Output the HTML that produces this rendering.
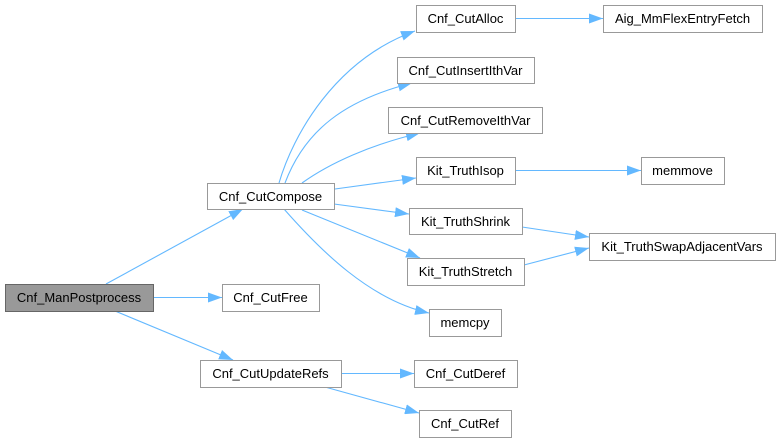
<!DOCTYPE html>
<html><head><meta charset="utf-8"><style>
html,body{margin:0;padding:0;background:#fff;}
svg{display:block;}
text{font-family:"Liberation Sans",Arial,sans-serif;font-size:13px;fill:#000;text-anchor:middle;}
.n{fill:#fff;stroke:#999;stroke-width:1;}
.e{fill:none;stroke:#63b8ff;stroke-width:1.1;}
</style></head><body>
<svg width="780" height="443" viewBox="0 0 780 443" xmlns="http://www.w3.org/2000/svg">
<defs>
<marker id="a" viewBox="0 0 14 10" refX="14" refY="5" markerWidth="14" markerHeight="10" markerUnits="userSpaceOnUse" orient="auto">
<path d="M0,0 L14,5 L0,10 z" fill="#63b8ff"/>
</marker>
</defs>
<g marker-end="url(#a)">
<path class="e" d="M106,284 L243,209"/>
<path class="e" d="M153,297.5 L222,297.5"/>
<path class="e" d="M115,311 L233,360"/>
<path class="e" d="M341,373.5 L414,373.5"/>
<path class="e" d="M325,387 L419,413"/>
<path class="e" d="M515,18.5 L603,18.5"/>
<path class="e" d="M515,170.5 L641,170.5"/>
<path class="e" d="M522,227 L589,237"/>
<path class="e" d="M524,265 L589,248"/>
<path class="e" d="M279,183 C293,135 335,60 415,31"/>
<path class="e" d="M285,183 C305,130 345,100 412,83"/>
<path class="e" d="M302,183 C330,163 370,145 420,133"/>
<path class="e" d="M335,189 L416,178"/>
<path class="e" d="M334,204 L409,214"/>
<path class="e" d="M302,210 L420,258"/>
<path class="e" d="M284,209 C320,250 370,300 429,313"/>
</g>
<rect x="5.5" y="284.5" width="148" height="27" fill="#999" stroke="#666"/>
<text x="79" y="302">Cnf_ManPostprocess</text>
<rect class="n" x="207.5" y="183.5" width="127" height="26"/>
<text x="270.5" y="201">Cnf_CutCompose</text>
<rect class="n" x="222.5" y="284.5" width="97" height="27"/>
<text x="270.5" y="302">Cnf_CutFree</text>
<rect class="n" x="200.5" y="360.5" width="141" height="27"/>
<text x="270.5" y="378">Cnf_CutUpdateRefs</text>
<rect class="n" x="416.5" y="5.5" width="99" height="27"/>
<text x="465.5" y="23">Cnf_CutAlloc</text>
<rect class="n" x="603.5" y="5.5" width="159" height="27"/>
<text x="682.5" y="23">Aig_MmFlexEntryFetch</text>
<rect class="n" x="397.5" y="57.5" width="137" height="26"/>
<text x="465.5" y="75">Cnf_CutInsertIthVar</text>
<rect class="n" x="388.5" y="107.5" width="154" height="26"/>
<text x="465.5" y="125">Cnf_CutRemoveIthVar</text>
<rect class="n" x="416.5" y="157.5" width="99" height="27"/>
<text x="465.5" y="175">Kit_TruthIsop</text>
<rect class="n" x="641.5" y="157.5" width="83" height="27"/>
<text x="682.5" y="175">memmove</text>
<rect class="n" x="409.5" y="208.5" width="113" height="26"/>
<text x="465.5" y="226">Kit_TruthShrink</text>
<rect class="n" x="589.5" y="233.5" width="186" height="27"/>
<text x="682" y="251">Kit_TruthSwapAdjacentVars</text>
<rect class="n" x="407.5" y="258.5" width="117" height="27"/>
<text x="465.5" y="276">Kit_TruthStretch</text>
<rect class="n" x="429.5" y="309.5" width="72" height="27"/>
<text x="465" y="327">memcpy</text>
<rect class="n" x="414.5" y="360.5" width="103" height="27"/>
<text x="465.5" y="378">Cnf_CutDeref</text>
<rect class="n" x="419.5" y="410.5" width="92" height="27"/>
<text x="465" y="428">Cnf_CutRef</text>
</svg>
</body></html>
